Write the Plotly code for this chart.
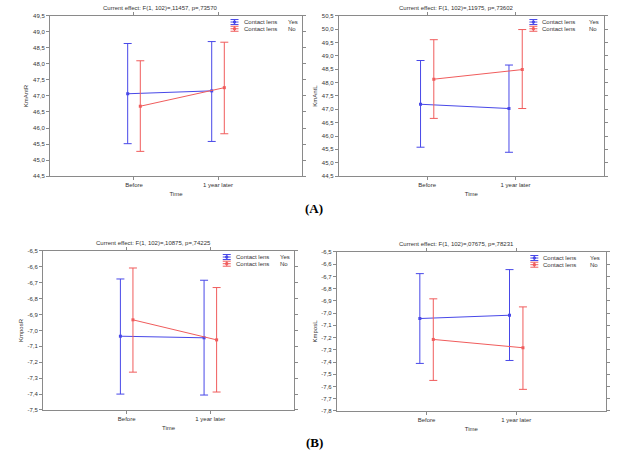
import plotly.graph_objects as go

# ---------------- data ----------------
categories = ["Before", "1 year later"]
group_labels = ["Yes", "No"]
series_name = "Contact lens"

titles = [
    "Current effect: F(1, 102)=,11457, p=,73570",
    "Current effect: F(1, 102)=,11975, p=,73602",
    "Current effect: F(1, 102)=,10875, p=,74225",
    "Current effect: F(1, 102)=,07675, p=,78231",
]
ylabels = ["KmAntR", "KmAntL", "KmposR", "KmposL"]

# panel 1 (KmAntR)
p1_yes_mean = [47.07, 47.16]
p1_yes_upper = [48.64, 48.70]
p1_yes_lower = [45.51, 45.58]
p1_no_mean = [46.68, 47.26]
p1_no_upper = [48.10, 48.68]
p1_no_lower = [45.27, 45.82]

# panel 2 (KmAntL)
p2_yes_mean = [47.19, 47.03]
p2_yes_upper = [48.83, 48.66]
p2_yes_lower = [45.58, 45.39]
p2_no_mean = [48.13, 48.49]
p2_no_upper = [49.61, 49.99]
p2_no_lower = [46.66, 47.03]

# panel 3 (KmposR)
p3_yes_mean = [-7.036, -7.046]
p3_yes_upper = [-6.676, -6.684]
p3_yes_lower = [-7.400, -7.406]
p3_no_mean = [-6.933, -7.059]
p3_no_upper = [-6.607, -6.730]
p3_no_lower = [-7.262, -7.387]

# panel 4 (KmposL)
p4_yes_mean = [-7.044, -7.017]
p4_yes_upper = [-6.677, -6.644]
p4_yes_lower = [-7.411, -7.387]
p4_no_mean = [-7.215, -7.283]
p4_no_upper = [-6.883, -6.949]
p4_no_lower = [-7.550, -7.623]

# y tick values / labels
p1_ticks = [44.5, 45.0, 45.5, 46.0, 46.5, 47.0, 47.5, 48.0, 48.5, 49.0, 49.5]
p1_ticktext = ["44,5", "45,0", "45,5", "46,0", "46,5", "47,0", "47,5", "48,0", "48,5", "49,0", "49,5"]
p2_ticks = [44.5, 45.0, 45.5, 46.0, 46.5, 47.0, 47.5, 48.0, 48.5, 49.0, 49.5, 50.0, 50.5]
p2_ticktext = ["44,5", "45,0", "45,5", "46,0", "46,5", "47,0", "47,5", "48,0", "48,5", "49,0", "49,5", "50,0", "50,5"]
p3_ticks = [-7.5, -7.4, -7.3, -7.2, -7.1, -7.0, -6.9, -6.8, -6.7, -6.6, -6.5]
p3_ticktext = ["-7,5", "-7,4", "-7,3", "-7,2", "-7,1", "-7,0", "-6,9", "-6,8", "-6,7", "-6,6", "-6,5"]
p4_ticks = [-7.8, -7.7, -7.6, -7.5, -7.4, -7.3, -7.2, -7.1, -7.0, -6.9, -6.8, -6.7, -6.6, -6.5]
p4_ticktext = ["-7,8", "-7,7", "-7,6", "-7,5", "-7,4", "-7,3", "-7,2", "-7,1", "-7,0", "-6,9", "-6,8", "-6,7", "-6,6", "-6,5"]

panels = [
    dict(yes=(p1_yes_mean, p1_yes_upper, p1_yes_lower), no=(p1_no_mean, p1_no_upper, p1_no_lower),
         ticks=p1_ticks, ticktext=p1_ticktext),
    dict(yes=(p2_yes_mean, p2_yes_upper, p2_yes_lower), no=(p2_no_mean, p2_no_upper, p2_no_lower),
         ticks=p2_ticks, ticktext=p2_ticktext),
    dict(yes=(p3_yes_mean, p3_yes_upper, p3_yes_lower), no=(p3_no_mean, p3_no_upper, p3_no_lower),
         ticks=p3_ticks, ticktext=p3_ticktext),
    dict(yes=(p4_yes_mean, p4_yes_upper, p4_yes_lower), no=(p4_no_mean, p4_no_upper, p4_no_lower),
         ticks=p4_ticks, ticktext=p4_ticktext),
]

# ---------------- styling / layout ----------------
BLUE = "#4848e8"
RED = "#f05c5c"
AXIS = "#8a8a8a"
TXT = "#333333"
FONT = "Liberation Sans, Arial, sans-serif"

xdomains = [[0.081, 0.4895], [0.549, 0.979], [0.0697, 0.4765], [0.546, 0.982]]
ydomains = [[0.614, 0.965], [0.614, 0.965], [0.1009, 0.4496], [0.0987, 0.4474]]
offset = 0.075

fig = go.Figure()
layout = dict(
    width=617, height=456,
    margin=dict(l=0, r=0, t=0, b=0),
    paper_bgcolor="white", plot_bgcolor="white",
    showlegend=False,
    font=dict(family=FONT, size=6, color=TXT),
)
annotations = []
shapes = []

for i, p in enumerate(panels):
    n = i + 1
    sfx = "" if n == 1 else str(n)
    xa, ya = "x" + sfx, "y" + sfx
    for key, color, off in (("yes", BLUE, -offset), ("no", RED, offset)):
        mean, upper, lower = p[key]
        fig.add_trace(go.Scatter(
            x=[k + off for k in range(len(categories))],
            y=mean,
            mode="lines+markers",
            line=dict(color=color, width=1),
            marker=dict(symbol="square", size=3, color=color),
            error_y=dict(type="data", symmetric=False,
                         array=[u - m for u, m in zip(upper, mean)],
                         arrayminus=[m - l for m, l in zip(mean, lower)],
                         color=color, thickness=1, width=4),
            xaxis=xa, yaxis=ya,
            name=series_name + " " + (group_labels[0] if key == "yes" else group_labels[1]),
        ))
    axis_common = dict(showgrid=False, zeroline=False, showline=True, linecolor=AXIS, linewidth=1,
                       mirror="ticks", ticks="outside", ticklen=3, tickcolor=AXIS,
                       tickfont=dict(family=FONT, size=6, color=TXT), automargin=False)
    layout["xaxis" + sfx] = dict(axis_common, domain=xdomains[i], anchor=ya, range=[-1, 2],
                                 tickvals=list(range(len(categories))), ticktext=categories,
                                 title=dict(text="Time", font=dict(family=FONT, size=6, color=TXT), standoff=4))
    layout["yaxis" + sfx] = dict(axis_common, domain=ydomains[i], anchor=xa,
                                 range=[p["ticks"][0], p["ticks"][-1]],
                                 tickvals=p["ticks"], ticktext=p["ticktext"],
                                 title=dict(text=ylabels[i], font=dict(family=FONT, size=6, color=TXT), standoff=3))
    # title
    annotations.append(dict(text=titles[i], xref=xa + " domain", yref=ya + " domain", x=0.5, y=1,
                            xanchor="center", yanchor="bottom", yshift=3, xshift=-15, showarrow=False,
                            font=dict(family=FONT, size=6, color=TXT)))
    # legend
    text_x = 0.76
    yes_x = 0.935
    rows = [0.962, 0.92]
    for r, (lab, color) in enumerate(zip(group_labels, (BLUE, RED))):
        ry = rows[r]
        annotations.append(dict(text=series_name, xref=xa + " domain", yref=ya + " domain", x=text_x, y=ry,
                                xanchor="left", yanchor="middle", showarrow=False,
                                font=dict(family=FONT, size=6, color=TXT)))
        annotations.append(dict(text=lab, xref=xa + " domain", yref=ya + " domain", x=yes_x, y=ry,
                                xanchor="left", yanchor="middle", showarrow=False,
                                font=dict(family=FONT, size=6, color=TXT)))
        base = dict(xref=xa + " domain", yref=ya + " domain", xsizemode="pixel", ysizemode="pixel",
                    xanchor=text_x, yanchor=ry, line=dict(color=color, width=1))
        for yy in (-2.5, 0, 2.5):
            shapes.append(dict(base, type="line", x0=-11, x1=-3, y0=yy, y1=yy))
        shapes.append(dict(base, type="line", x0=-7, x1=-7, y0=-2.5, y1=2.5))
        shapes.append(dict(base, type="rect", x0=-8, x1=-6, y0=-1, y1=1, fillcolor=color))

annotations.append(dict(text="<b>(A)</b>", xref="paper", yref="paper", x=314 / 617, y=1 - 209 / 456,
                        xanchor="center", yanchor="middle", showarrow=False,
                        font=dict(family="Liberation Serif, Times New Roman, serif", size=13, color="black")))
annotations.append(dict(text="<b>(B)</b>", xref="paper", yref="paper", x=314 / 617, y=1 - 442 / 456,
                        xanchor="center", yanchor="middle", showarrow=False,
                        font=dict(family="Liberation Serif, Times New Roman, serif", size=13, color="black")))

layout["annotations"] = annotations
layout["shapes"] = shapes
fig.update_layout(**layout)
fig.write_html("out.html")
